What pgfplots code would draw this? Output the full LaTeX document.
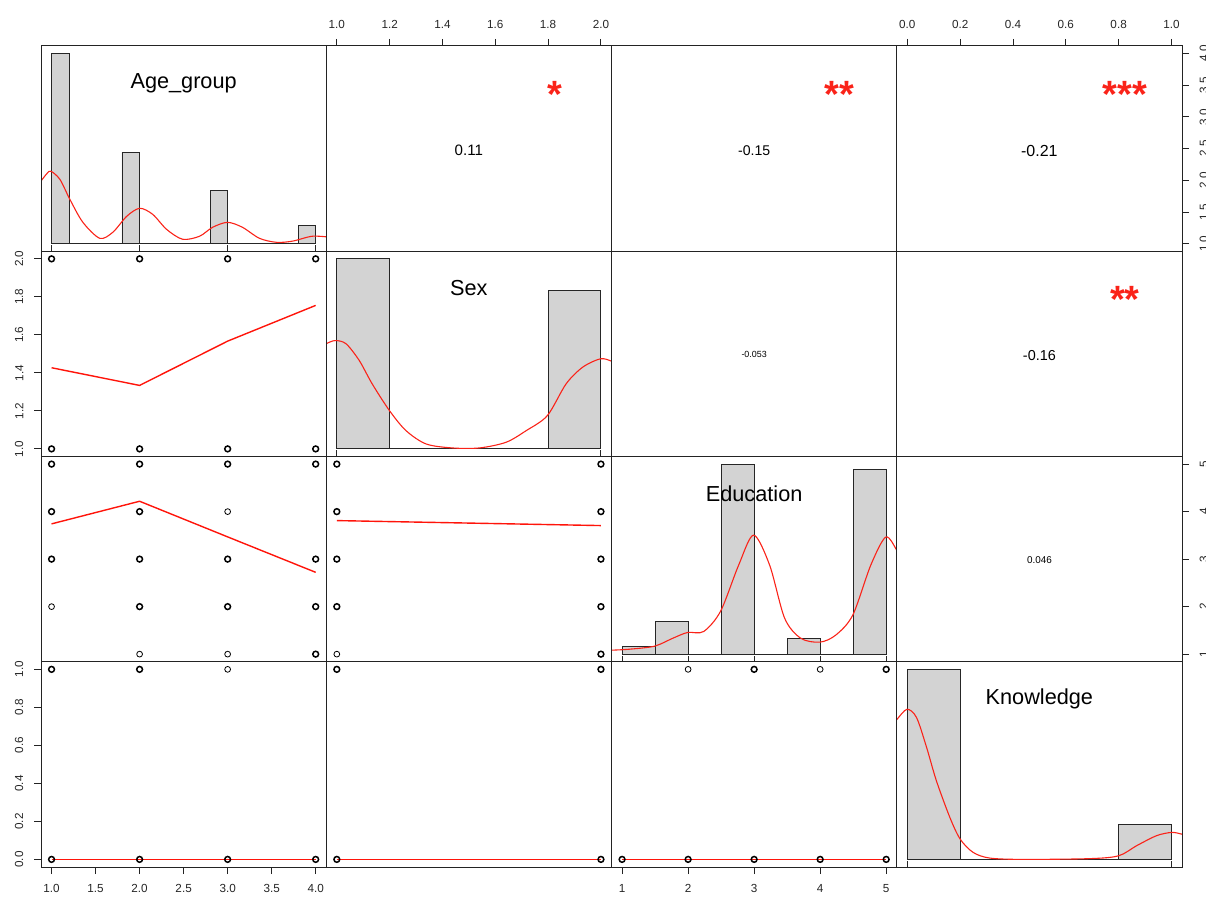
\documentclass[border=0pt]{standalone}
\usepackage{fontspec}
\setmainfont{Liberation Sans}
\usepackage{pgfplots}
\pgfplotsset{compat=1.18}
\definecolor{rred}{RGB}{250,35,25}
\definecolor{lred}{RGB}{255,20,10}
\definecolor{hgray}{RGB}{211,211,211}
\definecolor{frame}{RGB}{35,35,35}
\newcommand\tickfont{\fontsize{11.7pt}{14pt}\selectfont}
\newcommand\labfont{\fontsize{21.7pt}{26pt}\selectfont}
\newcommand\starfont{\fontsize{38pt}{40pt}\selectfont\bfseries}
\tikzset{
  diaglab/.style={font=\labfont, yshift=-3pt},
  star/.style={font=\starfont, text=rred, yshift=-7pt},
}
\pgfplotsset{
  panel/.style={scale only axis, width=285.25pt, height=205.25pt, anchor=north west,
    axis line style={line width=1pt, draw=frame},
    xtick=\empty, ytick=\empty, tick align=outside, major tick length=7pt,
    tick style={line width=0.9pt, frame},
    ticklabel style={font=\tickfont, inner sep=0pt, text=black!85},
    xticklabel shift=10.5pt, yticklabel shift=10.5pt,
    /pgf/number format/assume math mode=true,
    axis on top, clip=true},
  ageX/.style={xmin=0.88,xmax=4.12}, sexX/.style={xmin=0.96,xmax=2.04},
  eduX/.style={xmin=0.84,xmax=5.16}, knoX/.style={xmin=-0.04,xmax=1.04},
  ageY/.style={ymin=0.88,ymax=4.12}, sexY/.style={ymin=0.96,ymax=2.04},
  eduY/.style={ymin=0.84,ymax=5.16}, knoY/.style={ymin=-0.04,ymax=1.04},
  diagY/.style={ymin=-0.04,ymax=1.04},
  onedec x/.style={xticklabel style={/pgf/number format/fixed,/pgf/number format/fixed zerofill,/pgf/number format/precision=1}},
  onedec y/.style={yticklabel style={/pgf/number format/fixed,/pgf/number format/fixed zerofill,/pgf/number format/precision=1}},
  bold/.style={only marks, mark=o, mark size=2.9pt, mark options={line width=1.5pt, draw=black}},
  thinpt/.style={only marks, mark=o, mark size=2.9pt, mark options={line width=0.8pt, draw=black}},
  sm/.style={color=lred, solid, line width=1.4pt, mark=none},
  hist/.style={ybar interval, fill=hgray, draw=black!85, line width=0.9pt},
  rug/.style={black!85, line width=0.9pt, no marks},
  dens/.style={rred, line width=1.1pt, smooth, no marks},
}
\begin{document}
\begin{tikzpicture}
\useasboundingbox (0,0) rectangle (1206pt,899pt);
% ---------------- Row 1 ----------------
\begin{axis}[panel, at={(41pt,853pt)}, ageX, diagY]
\addplot[hist] coordinates {(1.0,1) (1.2,0) (1.8,0.481) (2.0,0) (2.8,0.281) (3.0,0) (3.8,0.096) (4.0,0)};
\addplot[rug] coordinates {(1,-0.04) (1,-0.008)};
\addplot[rug] coordinates {(2,-0.04) (2,-0.008)};
\addplot[rug] coordinates {(3,-0.04) (3,-0.008)};
\addplot[rug] coordinates {(4,-0.04) (4,-0.008)};
\addplot[dens] coordinates {(0.82,0.285) (0.88,0.329) (0.95,0.37) (0.993,0.381) (1.095,0.338) (1.208,0.233) (1.356,0.112) (1.548,0.028) (1.696,0.060) (1.854,0.144) (2.001,0.186) (2.149,0.154) (2.307,0.075) (2.489,0.023) (2.681,0.039) (2.829,0.086) (2.999,0.112) (3.168,0.086) (3.361,0.028) (3.554,0.007) (3.735,0.013) (3.961,0.039) (4.154,0.034)};
\node[diaglab] at (rel axis cs:0.5,0.833) {Age\_group};
\end{axis}
\begin{axis}[panel, at={(326.25pt,853pt)}, sexX, ageY,
  xtick={1,1.2,1.4,1.6,1.8,2}, xtick pos=upper, xticklabel pos=upper, onedec x]
\node[font={\fontsize{15.1pt}{18pt}\selectfont}, yshift=-2pt] at (rel axis cs:0.5,0.5) {0.11};
\node[star] at (rel axis cs:0.8,0.8) {*};
\end{axis}
\begin{axis}[panel, at={(611.5pt,853pt)}, eduX, ageY]
\node[font={\fontsize{14.1pt}{17pt}\selectfont}, yshift=-2pt] at (rel axis cs:0.5,0.5) {-0.15};
\node[star] at (rel axis cs:0.8,0.8) {**};
\end{axis}
\begin{axis}[panel, at={(896.75pt,853pt)}, knoX, ageY,
  xtick={0,0.2,0.4,0.6,0.8,1}, xtick pos=upper, xticklabel pos=upper, onedec x,
  ytick={1,1.5,2,2.5,3,3.5,4}, ytick pos=upper, yticklabel pos=upper, onedec y,
  yticklabel style={rotate=90, anchor=north}]
\node[font={\fontsize{16pt}{19pt}\selectfont}, yshift=-2pt] at (rel axis cs:0.5,0.5) {-0.21};
\node[star] at (rel axis cs:0.8,0.8) {***};
\end{axis}
% ---------------- Row 2 ----------------
\begin{axis}[panel, at={(41pt,647.75pt)}, ageX, sexY,
  ytick={1,1.2,1.4,1.6,1.8,2}, ytick pos=lower, yticklabel pos=lower, onedec y,
  yticklabel style={rotate=90, anchor=south}]
\addplot[bold] coordinates {(1,1) (2,1) (3,1) (4,1) (1,2) (2,2) (3,2) (4,2)};
\addplot[sm] coordinates {(1,1.427) (2,1.334) (3,1.567) (4,1.755)};
\end{axis}
\begin{axis}[panel, at={(326.25pt,647.75pt)}, sexX, diagY]
\addplot[hist] coordinates {(1.0,1) (1.2,0) (1.8,0.833) (2.0,0)};
\addplot[rug] coordinates {(1,-0.04) (1,-0.008)};
\addplot[rug] coordinates {(2,-0.04) (2,-0.008)};
\addplot[dens] coordinates {(0.93,0.53) (0.959,0.553) (0.994,0.570) (1.035,0.553) (1.085,0.465) (1.134,0.342) (1.199,0.202) (1.262,0.096) (1.338,0.026) (1.437,0.005) (1.540,0.005) (1.641,0.035) (1.717,0.096) (1.797,0.175) (1.868,0.342) (1.931,0.430) (1.998,0.474) (2.039,0.462) (2.07,0.44)};
\node[diaglab] at (rel axis cs:0.5,0.833) {Sex};
\end{axis}
\begin{axis}[panel, at={(611.5pt,647.75pt)}, eduX, sexY]
\node[font={\fontsize{8.9pt}{11pt}\selectfont}, yshift=-1pt] at (rel axis cs:0.5,0.5) {-0.053};
\end{axis}
\begin{axis}[panel, at={(896.75pt,647.75pt)}, knoX, sexY]
\node[font={\fontsize{14.4pt}{17pt}\selectfont}, yshift=-2pt] at (rel axis cs:0.5,0.5) {-0.16};
\node[star] at (rel axis cs:0.8,0.8) {**};
\end{axis}
% ---------------- Row 3 ----------------
\begin{axis}[panel, at={(41pt,442.5pt)}, ageX, eduY]
\addplot[bold] coordinates {(1,5) (1,4) (1,3) (2,5) (2,4) (2,3) (2,2) (3,5) (3,3) (3,2) (4,5) (4,3) (4,2) (4,1)};
\addplot[thinpt] coordinates {(1,2) (2,1) (3,4) (3,1)};
\addplot[sm] coordinates {(1,3.742) (2,4.218) (3,3.468) (4,2.722)};
\end{axis}
\begin{axis}[panel, at={(326.25pt,442.5pt)}, sexX, eduY]
\addplot[bold] coordinates {(1,5) (1,4) (1,3) (1,2) (2,5) (2,4) (2,3) (2,2) (2,1)};
\addplot[thinpt] coordinates {(1,1)};
\addplot[sm] coordinates {(1,3.811) (2,3.706)};
\end{axis}
\begin{axis}[panel, at={(611.5pt,442.5pt)}, eduX, diagY]
\addplot[hist] coordinates {(1,0.042) (1.5,0.174) (2,0) (2.5,1) (3,0) (3.5,0.084) (4,0) (4.5,0.974) (5,0)};
\addplot[rug] coordinates {(1,-0.04) (1,-0.008)};
\addplot[rug] coordinates {(2,-0.04) (2,-0.008)};
\addplot[rug] coordinates {(3,-0.04) (3,-0.008)};
\addplot[rug] coordinates {(4,-0.04) (4,-0.008)};
\addplot[rug] coordinates {(5,-0.04) (5,-0.008)};
\addplot[dens] coordinates {(0.80,0.02) (0.855,0.021) (1.113,0.026) (1.492,0.042) (1.77,0.084) (1.992,0.114) (2.235,0.119) (2.492,0.226) (2.765,0.468) (2.992,0.626) (3.235,0.468) (3.462,0.189) (3.705,0.084) (3.993,0.063) (4.235,0.1) (4.493,0.205) (4.766,0.468) (4.993,0.616) (5.16,0.547) (5.2,0.52)};
\node[diaglab] at (rel axis cs:0.5,0.833) {Education};
\end{axis}
\begin{axis}[panel, at={(896.75pt,442.5pt)}, knoX, eduY,
  ytick={1,2,3,4,5}, ytick pos=upper, yticklabel pos=upper,
  yticklabel style={rotate=90, anchor=north}]
\node[font={\fontsize{9.9pt}{12pt}\selectfont}, yshift=-1pt] at (rel axis cs:0.5,0.5) {0.046};
\end{axis}
% ---------------- Row 4 ----------------
\begin{axis}[panel, at={(41pt,237.25pt)}, ageX, knoY,
  xtick={1,1.5,2,2.5,3,3.5,4}, xtick pos=lower, xticklabel pos=lower, onedec x,
  ytick={0,0.2,0.4,0.6,0.8,1}, ytick pos=lower, yticklabel pos=lower, onedec y,
  yticklabel style={rotate=90, anchor=south}]
\addplot[bold] coordinates {(1,1) (2,1) (1,0) (2,0) (3,0) (4,0)};
\addplot[thinpt] coordinates {(3,1)};
\addplot[sm] coordinates {(1,0) (2,0) (3,0) (4,0)};
\end{axis}
\begin{axis}[panel, at={(326.25pt,237.25pt)}, sexX, knoY]
\addplot[bold] coordinates {(1,1) (2,1) (1,0) (2,0)};
\addplot[sm] coordinates {(1,0) (2,0)};
\end{axis}
\begin{axis}[panel, at={(611.5pt,237.25pt)}, eduX, knoY,
  xtick={1,2,3,4,5}, xtick pos=lower, xticklabel pos=lower]
\addplot[bold] coordinates {(3,1) (5,1) (1,0) (2,0) (3,0) (4,0) (5,0)};
\addplot[thinpt] coordinates {(2,1) (4,1)};
\addplot[sm] coordinates {(1,0) (2,0) (3,0) (4,0) (5,0)};
\end{axis}
\begin{axis}[panel, at={(896.75pt,237.25pt)}, knoX, diagY]
\addplot[hist] coordinates {(0,1) (0.2,0) (0.8,0.184) (1.0,0)};
\addplot[rug] coordinates {(0,-0.04) (0,-0.008)};
\addplot[rug] coordinates {(1,-0.04) (1,-0.008)};
\addplot[dens] coordinates {(-0.06,0.70) (-0.039,0.737) (-0.001,0.790) (0.035,0.746) (0.073,0.589) (0.110,0.414) (0.161,0.221) (0.200,0.107) (0.249,0.037) (0.312,0.007) (0.437,0.0) (0.691,0.004) (0.800,0.019) (0.868,0.072) (0.944,0.125) (1.001,0.142) (1.039,0.133) (1.06,0.125)};
\node[diaglab] at (rel axis cs:0.5,0.833) {Knowledge};
\end{axis}
\end{tikzpicture}
\end{document}
